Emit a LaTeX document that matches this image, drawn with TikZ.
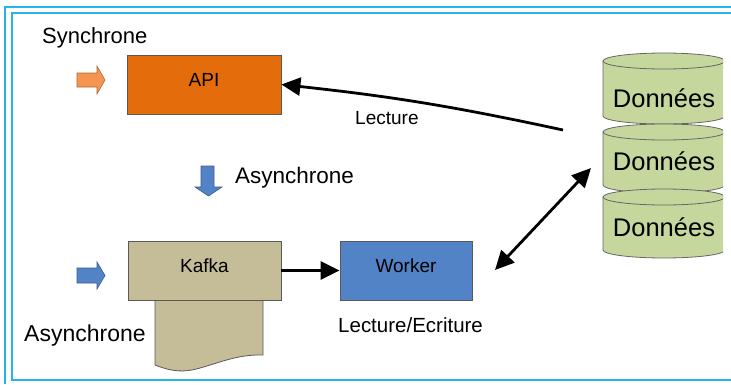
\documentclass[tikz,border=0pt]{standalone}
\usepackage{fontspec}
\setmainfont{Liberation Sans}
\usetikzlibrary{arrows.meta}

\definecolor{apiorange}{RGB}{228,108,10}
\definecolor{arroworange}{RGB}{245,150,80}
\definecolor{workerblue}{RGB}{83,131,199}
\definecolor{kafkatan}{RGB}{196,189,151}
\definecolor{dbgreen}{RGB}{197,215,157}
\definecolor{framecyan}{RGB}{40,180,228}

\begin{document}
\begin{tikzpicture}[
    x=1pt, y=-1pt,
    box/.style={rectangle, draw=black!65, line width=0.8pt, minimum width=154pt, minimum height=59pt, text height=0.7em, text depth=0.35em, font=\fontsize{19}{23}\selectfont},
    lbl/.style={anchor=base west, inner sep=0pt, font=\fontsize{22.5}{27}\selectfont},
    db/.style={draw=black!60, fill=dbgreen, line width=0.8pt},
    dbtext/.style={anchor=base, inner sep=0pt, font=\fontsize{25.5}{30}\selectfont},
    bigarrow/.style={line width=2.8pt, -{Triangle[length=19pt,width=18pt]}},
    blockarrow/.style={draw=#1!70!black, fill=#1, line width=0.6pt},
    frame/.style={framecyan, line width=1.8pt}
]
    \useasboundingbox (0,0) rectangle (731,384);

    % Frame
    \draw[frame] (5,384) -- (5,7) -- (731,7);
    \draw[frame] (731,13) -- (12,13) -- (12,380) -- (731,380);

    % Kafka tail
    \draw[draw=black!65, fill=kafkatan, line width=0.8pt] (155,295) -- (155,365) .. controls (170,371) and (180,372) .. (192,370) .. controls (215,365) and (235,354) .. (263,355) -- (263,295);

    % Nodes
    \node[box, fill=apiorange] (api) at (204,84.5) {API};
    \node[box, fill=kafkatan, minimum width=153pt] (kafka) at (204.5,270.5) {Kafka};
    \node[box, fill=workerblue, minimum width=132pt] (worker) at (406,270.5) {Worker};

    % Labels
    \node[lbl, font=\fontsize{22}{26}\selectfont] (sync) at (42,43) {Synchrone};
    \node[lbl] (async) at (235,183) {Asynchrone};
    \node[lbl, font=\fontsize{23}{27}\selectfont] (asynckafka) at (24,341) {Asynchrone};
    \node[lbl, font=\fontsize{19}{23}\selectfont] (lect) at (355,124.5) {Lecture};
    \node[lbl, font=\fontsize{20.5}{24}\selectfont] (lectecr) at (338,332.5) {Lecture/Ecriture};

    % Block arrows
    \draw[blockarrow=arroworange] (77,73) -- (97,73) -- (97,66) -- (105,80) -- (97,94) -- (97,87) -- (77,87) -- cycle;
    \draw[blockarrow=workerblue] (77,268) -- (97,268) -- (97,262) -- (105,275.5) -- (97,289) -- (97,283) -- (77,283) -- cycle;
    \draw[blockarrow=workerblue] (201,166) -- (214,166) -- (214,187) -- (222,187) -- (208.5,196) -- (195,187) -- (201,187) -- cycle;

    % Data store
    \begin{scope}
        \clip (595,40) rectangle (723,270);
        \foreach \yt/\yb/\yl [count=\i] in {61/116/107, 132/185/170, 197/250/236}{
            \draw[db] (603,\yt) -- (603,\yb) arc[start angle=180, end angle=0, x radius=61, y radius=8] -- (725,\yt) -- cycle;
            \draw[db] (664,\yt) ellipse[x radius=61, y radius=8];
            \node[dbtext] (db\i) at (664,\yl) {Données};
        }
    \end{scope}

    % Arrows
    \coordinate (lecstart) at (563,130);
    \coordinate (dbend) at (591,168);
    \coordinate (workend) at (495,270);
    \draw[bigarrow] (lecstart) to[bend right=3] (api.east);
    \draw[bigarrow] (kafka.east) -- (worker.west);
    \draw[bigarrow, {Triangle[length=19pt,width=18pt]}-{Triangle[length=19pt,width=18pt]}] (workend) -- (dbend);
\end{tikzpicture}
\end{document}
